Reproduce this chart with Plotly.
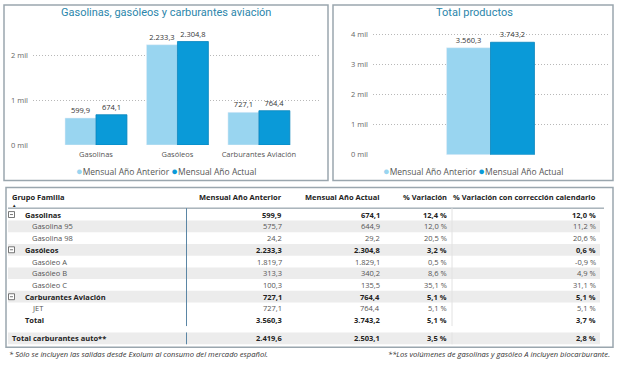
import plotly.graph_objects as go

W, H = 620, 369

# ---------------- data ----------------
categories = ["Gasolinas", "Gasóleos", "Carburantes Aviación"]
mensual_anterior = [599.9, 2233.3, 727.1]
mensual_actual = [674.1, 2304.8, 764.4]

total_categoria = ["Total productos"]
total_anterior = [3560.3]
total_actual = [3743.2]

left_ticks = [0, 1000, 2000]
left_ticktext = ["0 mil", "1 mil", "2 mil"]
right_ticks = [0, 1000, 2000, 3000, 4000]
right_ticktext = ["0 mil", "1 mil", "2 mil", "3 mil", "4 mil"]

series_names = ["Mensual Año Anterior", "Mensual Año Actual"]

table_rows = ["Gasolinas", "Gasolina 95", "Gasolina 98", "Gasóleos", "Gasóleo A",
              "Gasóleo B", "Gasóleo C", "Carburantes Aviación", "JET", "Total"]
table_level = ["group", "item", "item", "group", "item", "item", "item", "group", "item", "total"]
table_anterior = [599.9, 575.7, 24.2, 2233.3, 1819.7, 313.3, 100.3, 727.1, 727.1, 3560.3]
table_actual = [674.1, 644.9, 29.2, 2304.8, 1829.1, 340.2, 135.5, 764.4, 764.4, 3743.2]
table_variacion = [12.4, 12.0, 20.5, 3.2, 0.5, 8.6, 35.1, 5.1, 5.1, 5.1]
table_correccion = [12.0, 11.2, 20.6, 0.6, -0.9, 4.9, 31.1, 5.1, 5.1, 3.7]

auto_label = "Total carburantes auto**"
auto_anterior = 2419.6
auto_actual = 2503.1
auto_variacion = 3.5
auto_correccion = 2.8

headers = ["Grupo Familia", "Mensual Año Anterior", "Mensual Año Actual",
           "% Variación", "% Variación con corrección calendario"]

note_left = "* Sólo se incluyen las salidas desde Exolum al consumo del mercado español."
note_right = "**Los volúmenes de gasolinas y gasóleo A incluyen biocarburante."

# ---------------- styles ----------------
LIGHT = "#99d5f0"
DARK = "#0a9ad8"
TITLE_C = "#2b86ab"
FONT = "Segoe UI, Open Sans, sans-serif"
TFONT = "Roboto, sans-serif"
BORDER = "#9aa6ae"
GRID = "#b8b8b8"


def fx(x):
    return x / W


def fy(y):
    return 1 - y / H


def es_num(v):
    s = f"{v:,.1f}"
    return s.replace(",", "X").replace(".", ",").replace("X", ".")


def es_pct(v):
    return f"{v:.1f}".replace(".", ",") + " %"


fig = go.Figure()

# left chart
BW_L = 0.38
fig.add_trace(go.Bar(x=categories, y=mensual_anterior, name=series_names[0],
                     marker=dict(color=LIGHT), width=BW_L, offset=-BW_L,
                     text=[es_num(v) for v in mensual_anterior], textposition="outside",
                     textfont=dict(size=7.5, color="#333", family=FONT),
                     cliponaxis=False, xaxis="x", yaxis="y", showlegend=False))
fig.add_trace(go.Bar(x=categories, y=mensual_actual, name=series_names[1],
                     marker=dict(color=DARK, line=dict(color="#0784bd", width=0.8)),
                     width=BW_L, offset=0,
                     text=[es_num(v) for v in mensual_actual], textposition="outside",
                     textfont=dict(size=7.5, color="#333", family=FONT),
                     cliponaxis=False, xaxis="x", yaxis="y", showlegend=False))

# right chart
BW_R = 0.187
fig.add_trace(go.Bar(x=total_categoria, y=total_anterior, name=series_names[0],
                     marker=dict(color=LIGHT), width=BW_R, offset=-BW_R,
                     text=[es_num(v) for v in total_anterior], textposition="outside",
                     textfont=dict(size=7.5, color="#333", family=FONT),
                     cliponaxis=False, xaxis="x2", yaxis="y2", showlegend=False))
fig.add_trace(go.Bar(x=total_categoria, y=total_actual, name=series_names[1],
                     marker=dict(color=DARK, line=dict(color="#0784bd", width=0.8)),
                     width=BW_R, offset=0,
                     text=[es_num(v) for v in total_actual], textposition="outside",
                     textfont=dict(size=7.5, color="#333", family=FONT),
                     cliponaxis=False, xaxis="x2", yaxis="y2", showlegend=False))

axis_common = dict(showline=False, zeroline=False, ticks="")
fig.update_layout(
    width=W, height=H, autosize=False,
    margin=dict(l=0, r=0, t=0, b=0),
    paper_bgcolor="white", plot_bgcolor="rgba(0,0,0,0)",
    barmode="overlay",
    font=dict(family=FONT, color="#555"),
    xaxis=dict(domain=[fx(33), fx(320)], anchor="y", type="category",
               range=[-0.773, 2.75], showgrid=False, ticklabelstandoff=3,
               tickfont=dict(size=7.5, color="#555"), **axis_common),
    yaxis=dict(domain=[fy(147), fy(30)], anchor="x", range=[0, 2571],
               tickvals=left_ticks, ticktext=left_ticktext, ticklabelstandoff=4,
               showgrid=True, gridcolor=GRID, griddash="1px,2px", gridwidth=1,
               tickfont=dict(size=7.5, color="#666"), **axis_common),
    xaxis2=dict(domain=[fx(373), fx(608)], anchor="y2", type="category",
                range=[-0.5, 0.5], showgrid=False, showticklabels=False, **axis_common),
    yaxis2=dict(domain=[fy(157), fy(30)], anchor="x2", range=[0, 4164],
                tickvals=right_ticks, ticktext=right_ticktext, ticklabelstandoff=4,
                showgrid=True, gridcolor=GRID, griddash="1px,2px", gridwidth=1,
                tickfont=dict(size=7.5, color="#666"), **axis_common),
)

shapes = []
ann = []


def rect(x0, y0, x1, y1, line=None, fill=None, width=1):
    shapes.append(dict(type="rect", xref="paper", yref="paper",
                       x0=fx(x0), x1=fx(x1), y0=fy(y1), y1=fy(y0),
                       line=dict(color=line or "rgba(0,0,0,0)", width=width if line else 0),
                       fillcolor=fill or "rgba(0,0,0,0)", layer="below"))


def hline(x0, x1, y, color, width=1):
    shapes.append(dict(type="line", xref="paper", yref="paper",
                       x0=fx(x0), x1=fx(x1), y0=fy(y), y1=fy(y),
                       line=dict(color=color, width=width)))


def vline(x, y0, y1, color, width=1):
    shapes.append(dict(type="line", xref="paper", yref="paper",
                       x0=fx(x), x1=fx(x), y0=fy(y0), y1=fy(y1),
                       line=dict(color=color, width=width)))


def text(x, y, s, size=7.5, color="#333", anchor="left", family=FONT):
    ann.append(dict(xref="paper", yref="paper", x=fx(x), y=fy(y), text=s,
                    showarrow=False, xanchor=anchor, yanchor="middle",
                    font=dict(size=size, color=color, family=family),
                    borderpad=0))


# panels
rect(4, 5, 328, 183, line=BORDER, width=1.5)
rect(333, 5, 613, 183, line=BORDER, width=1.5)
rect(6, 190, 613, 352, line=BORDER, width=1.5)

# titles
text(166, 13, "Gasolinas, gasóleos y carburantes aviación", size=11, color=TITLE_C,
     anchor="center", family=TFONT)
text(474, 13, "Total productos", size=11, color=TITLE_C, anchor="center", family=TFONT)

# legends
leg = (f"<span style='color:{LIGHT};font-size:11px'>●</span>{series_names[0]} "
       f"<span style='color:{DARK};font-size:11px'>●</span>{series_names[1]}")
text(166, 173, leg, size=8.5, color="#555", anchor="center")
text(473, 173, leg, size=8.5, color="#555", anchor="center")

# ---------------- table ----------------
col_right = [283, 381, 448, 597]
row_y0 = 217.5
row_h = 11.9
stripe_x0, stripe_x1 = 8, 600

for i, lvl in enumerate(table_level):
    yc = row_y0 + i * row_h
    if i % 2 == 1 and lvl != "total":
        rect(stripe_x0, yc - row_h / 2, stripe_x1, yc + row_h / 2, fill="#ececec")
auto_y = 343
rect(stripe_x0, auto_y - 6, stripe_x1, auto_y + 6, fill="#ececec")

# header
text(11, 200, "<b>" + headers[0] + "</b>", size=7.5, color="#222")
text(11, 207.5, "▲", size=4.5, color="#222")
for h, xr in zip(headers[1:], col_right):
    text(xr, 200, "<b>" + h + "</b>", size=7.5, color="#222", anchor="right")
hline(8, 604, 211, "#7d8c97", 1)

last_y = row_y0 + (len(table_rows) - 1) * row_h + row_h / 2
vline(186.5, 211, last_y, "#5b86a5", 1)
vline(452, 211, last_y, "#e2e2e2", 1)
vline(186.5, auto_y - 6, auto_y + 6, "#5b86a5", 1)
vline(452, auto_y - 6, auto_y + 6, "#e2e2e2", 1)

for i, (name, lvl) in enumerate(zip(table_rows, table_level)):
    yc = row_y0 + i * row_h
    bold = lvl in ("group", "total")
    c = "#222" if bold else "#555"

    def B(s):
        return "<b>" + s + "</b>" if bold else s

    if lvl == "group":
        shapes.append(dict(type="rect", xref="paper", yref="paper",
                           x0=fx(8.5), x1=fx(14.5), y0=fy(yc + 3), y1=fy(yc - 3),
                           line=dict(color="#555", width=0.8), fillcolor="white"))
        hline(10, 13, yc, "#555", 0.8)
        text(24, yc, B(name), color=c)
    elif lvl == "total":
        text(24, yc, B(name), color=c)
    else:
        text(31, yc, name, color=c)
    vals = [es_num(table_anterior[i]), es_num(table_actual[i]),
            es_pct(table_variacion[i]), es_pct(table_correccion[i])]
    for v, xr in zip(vals, col_right):
        text(xr, yc, B(v), color=c, anchor="right")

text(11, auto_y, "<b>" + auto_label + "</b>", color="#222")
for v, xr in zip([es_num(auto_anterior), es_num(auto_actual),
                  es_pct(auto_variacion), es_pct(auto_correccion)], col_right):
    text(xr, auto_y, "<b>" + v + "</b>", color="#222", anchor="right")

# footnotes
text(8, 358.5, "<i>" + note_left + "</i>", size=7.6, color="#333")
text(611, 358.5, "<i>" + note_right + "</i>", size=7.6, color="#333", anchor="right")

fig.update_layout(shapes=shapes, annotations=ann)
fig.write_html("out.html", config={"displayModeBar": False},
               post_script="document.body.style.margin='0';document.body.style.padding='0';")
